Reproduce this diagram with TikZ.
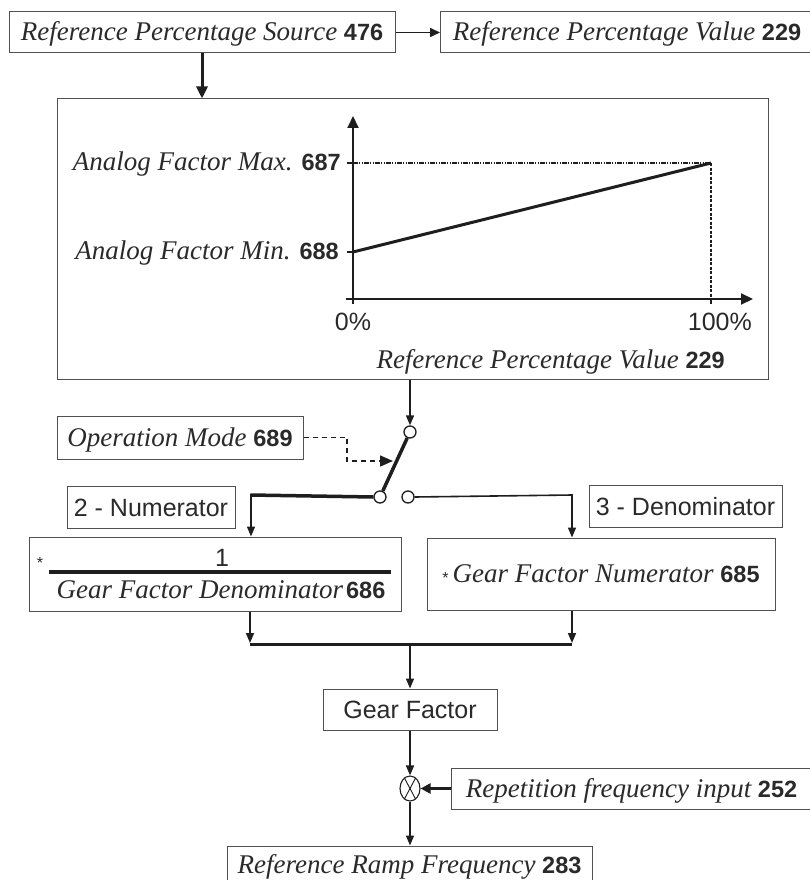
\documentclass[tikz,border=0pt]{standalone}
\usepackage{fontspec}
\setmainfont{Liberation Serif}
\setsansfont{Liberation Sans}
\usetikzlibrary{arrows.meta,shapes.geometric}
\definecolor{txt}{HTML}{2A2A2A}
\definecolor{bx}{HTML}{505050}
\definecolor{ln}{HTML}{1E1E1E}
\newcommand\pnum[1]{{\sffamily\bfseries\fontsize{23.5}{26}\selectfont #1}}
\newcommand\itx[1]{{\rmfamily\itshape\fontsize{27}{30}\selectfont #1}}
\newcommand\sfx[1]{{\sffamily\fontsize{25}{28}\selectfont #1}}
\newcommand\smast{{\sffamily\fontsize{16}{16}\selectfont *}}
\begin{document}
\begin{tikzpicture}[x=1pt,y=-1pt,
  box/.style={draw=bx,line width=1pt,inner sep=0pt,text=txt,rectangle},
  ibox/.style={box,text height=21pt,text depth=4pt},
  sbox/.style={box,text height=18pt,text depth=0pt},
  lbl/.style={inner sep=0pt,text=txt},
  conn/.style={draw=ln,line width=1.6pt},
  tip/.style={-{Triangle[length=10pt,width=8pt]}},
  bigtip/.style={-{Triangle[length=12pt,width=11pt]}},
  sw/.style={circle,draw=ln,fill=white,line width=1.3pt,minimum size=12pt,inner sep=0pt},
]
\useasboundingbox (0,0) rectangle (809,880);
\fill[white] (0,0) rectangle (809,880);

% top boxes
\node[ibox,minimum width=386pt,minimum height=41pt] (src) at (202,32.5)
  {\itx{Reference Percentage Source }\pnum{476}};
\node[ibox,minimum width=373pt,minimum height=41pt] (val) at (627,32.5)
  {\itx{Reference Percentage Value }\pnum{229}};
\draw[conn,-{Triangle[length=10pt,width=9pt]}] (src.east) -- (val.west);

% graph box
\node[box,minimum width=711pt,minimum height=280pt] (big) at (412.5,239) {};
\draw[draw=ln,line width=3pt,bigtip] (src.south) -- (src.south |- big.north);

% graph
\coordinate (ymx) at (353,163);
\coordinate (ymn) at (353,252);
\coordinate (pmx) at (711,163);
\coordinate (p100) at (711,299);
\draw[draw=ln,line width=2pt,bigtip] (353,304) -- (353,116);
\draw[draw=ln,line width=2pt,bigtip] (346,299) -- (753,299);
\draw[draw=ln,line width=2pt] (347,163) -- (ymx);
\draw[draw=ln,line width=2pt] (347,252) -- (ymn);
\draw[draw=ln,line width=2pt] (p100) -- (711,304);
\draw[draw=ln,line width=1.1pt,dash pattern=on 5pt off 1.2pt on 1.2pt off 1.2pt on 1.2pt off 1.2pt] (ymx) -- (pmx);
\draw[draw=ln,line width=2.8pt,dash pattern=on 3pt off 1.5pt] (pmx) -- (p100);
\draw[draw=ln,line width=3pt] (ymn) -- (pmx);
\node[lbl,anchor=base east] (amax) at (341,170) {\itx{Analog Factor Max. }\pnum{687}};
\node[lbl,anchor=base east] (amin) at (339,259) {\itx{Analog Factor Min. }\pnum{688}};
\node[lbl,anchor=base] (p0) at (353,330) {\sfx{0\%}};
\node[lbl,anchor=base east] (p1) at (752,330) {\sfx{100\%}};
\node[lbl,anchor=base east] (gval) at (725,368) {\itx{Reference Percentage Value }\pnum{229}};

% switch
\node[sw] (c1) at (410,432) {};
\node[sw] (c2) at (380,497) {};
\node[sw] (c3) at (408,497) {};
\draw[conn,tip] (c1 |- big.south) -- (c1.north);
\draw[draw=ln,line width=3.5pt] (c1) -- (c2);

\node[ibox,minimum width=246pt,minimum height=43pt] (op) at (180,437.5)
  {\itx{Operation Mode }\pnum{689}};
\coordinate (d1) at (347,437.5);
\coordinate (d2) at (347,461);
\coordinate (lv) at (393,461);
\draw[draw=ln,line width=1.5pt,dash pattern=on 5pt off 4pt,-{Triangle[length=13pt,width=11pt]}]
  (op.east) -- (d1) -- (d2) -- (lv);

\node[sbox,minimum width=168pt,minimum height=42pt] (numb) at (151,507) {\sfx{2 - Numerator}};
\node[sbox,minimum width=193pt,minimum height=42pt] (denb) at (685.5,506) {\sfx{3 - Denominator}};

% gear boxes
\node[box,minimum width=372pt,minimum height=74pt] (gl) at (215,574) {};
\node[ibox,minimum width=348pt,minimum height=72pt] (gr) at (601,574)
  {\raisebox{-1pt}{\smast}\kern4pt\itx{Gear Factor Numerator }\pnum{685}};
\node[lbl,anchor=base] (one) at (222,566) {\sfx{1}};
\coordinate (fb1) at (49,572);
\coordinate (fb2) at (391,572);
\draw[draw=ln,line width=3.5pt] (fb1) -- (fb2);
\node[lbl] (st1) at (40,563) {\smast};
\node[lbl,anchor=base] (dn) at (221,598) {\itx{Gear Factor Denominator}\kern3pt\pnum{686}};

\coordinate (lc) at (251,495);
\coordinate (rc) at (572,495);
\draw[draw=ln,line width=3.5pt] (c2.west) -- (250.25,495);
\draw[conn,tip] (251,493.5) -- (lc |- gl.north);
\draw[conn,tip] (c3.east) -- (rc) -- (rc |- gr.north);

% merge
\coordinate (ml) at (250,643);
\coordinate (mr) at (572,643);
\coordinate (mm) at (410,644.5);
\draw[conn,tip] (ml |- gl.south) -- (ml);
\draw[conn,tip] (mr |- gr.south) -- (mr);
\draw[draw=ln,line width=2.5pt] (250,644.5) -- (572,644.5);

\node[sbox,minimum width=174pt,minimum height=41pt] (gf) at (410,709.5) {\sfx{Gear Factor}};
\draw[conn,tip] (mm) -- (gf.north);

\node[ellipse,draw=ln,line width=1.1pt,fill=white,minimum width=20pt,minimum height=25pt,inner sep=0pt] (mul) at (410,788.5) {};
\draw[draw=ln,line width=0.9pt] (mul.62) -- (mul.242);
\draw[draw=ln,line width=0.9pt] (mul.118) -- (mul.298);
\draw[conn,tip] (gf.south) -- (mul.north);

\node[ibox,minimum width=361pt,minimum height=41pt] (rep) at (631.5,788.5)
  {\itx{Repetition frequency input }\pnum{252}};
\draw[draw=ln,line width=3pt,-{Triangle[length=10pt,width=10pt]}] (rep.west) -- (mul.east);

\node[ibox,minimum width=365pt,minimum height=38pt] (out) at (409.5,865)
  {\itx{Reference Ramp Frequency }\pnum{283}};
\draw[conn,tip] (mul.south) -- (mul.south |- out.north);
\end{tikzpicture}
\end{document}
